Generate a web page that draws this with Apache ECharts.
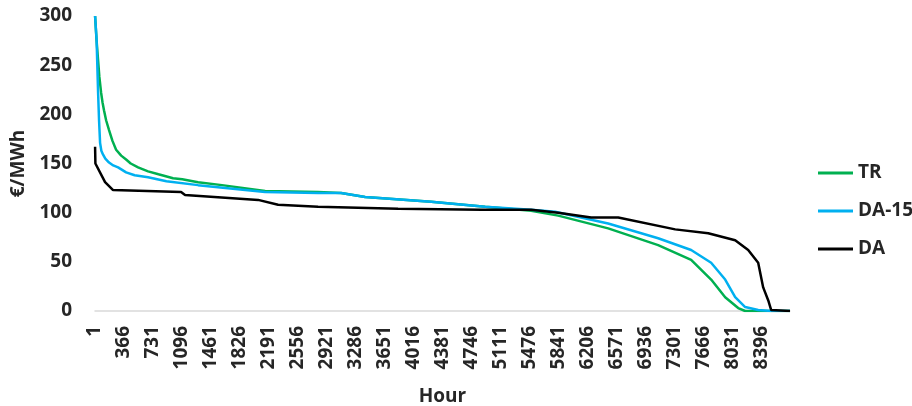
<!DOCTYPE html>
<html>
<head>
<meta charset="utf-8">
<script src="https://cdn.jsdelivr.net/npm/echarts@6/dist/echarts.min.js"></script>
<style>html,body{margin:0;padding:0;background:#fff}#c{width:912px;height:406px}</style>
</head>
<body>
<div id="c"></div>
<script>
// Tick labels on the hour axis
const hourTicks = [1,366,731,1096,1461,1826,2191,2556,2921,3286,3651,4016,4381,4746,5111,5476,5841,6206,6571,6936,7301,7666,8031,8396];
const seriesNames = ['TR', 'DA-15', 'DA'];

// TR (price duration curve) – hours and €/MWh values
const trHours  = [1, 20, 39, 55, 77, 95, 114, 140, 177, 220, 266, 330, 392, 450, 543, 669, 800, 984, 1100, 1299, 1600, 2144, 2812, 3102, 3405, 4237, 4918, 5497, 5838, 6468, 7098, 7514, 7766, 7943, 8107, 8195, 8760];
const trValues = [300, 275, 255, 238, 222, 212, 204, 194, 184, 173, 164, 158, 154, 150, 146, 142, 139, 135, 134, 131, 128, 122, 121, 120, 116, 111, 106, 102, 97, 84, 67, 52, 32, 14, 3, 0, 0];

// DA-15
const da15Hours  = [1, 20, 39, 51, 64, 80, 102, 130, 177, 230, 291, 392, 500, 669, 900, 1299, 2144, 2812, 3102, 3405, 4237, 4918, 5497, 5800, 6468, 7098, 7514, 7766, 7943, 8069, 8195, 8359, 8523, 8760];
const da15Values = [300, 276, 222, 194, 171, 163, 159, 155, 151, 148, 146, 141, 138, 136, 132, 128, 121, 120, 120, 116, 111, 106, 103, 101, 89, 74, 62, 49, 32, 14, 4, 1, 0, 0];

// DA
const daHours  = [1, 5, 127, 228, 1085, 1135, 2056, 2308, 2812, 3820, 4867, 5497, 5838, 6254, 6595, 7313, 7729, 8069, 8233, 8359, 8422, 8485, 8523, 8760];
const daValues = [167, 150, 131, 123, 121, 118, 113, 108, 106, 104, 103, 103, 100, 95, 95, 83, 79, 72, 62, 49, 24, 11, 1, 0];

const colors = ['#00B050', '#00B0F0', '#000000'];
const zip = (h, v) => h.map((x, i) => [x, v[i]]);
const FONT = 'Open Sans';
const TXT = '#262626';

const chart = echarts.init(document.getElementById('c'), null, {renderer: 'canvas'});
chart.setOption({
  animation: false,
  grid: {left: 95, right: 122, top: 16, bottom: 95, containLabel: false, outerBoundsMode: 'none'},
  legend: {
    orient: 'vertical', left: 813, top: 158,
    itemWidth: 35, itemHeight: 3, itemGap: 18, icon: 'rect',
    textStyle: {fontFamily: FONT, fontWeight: 'bold', fontSize: 19, lineHeight: 20, color: TXT},
    data: seriesNames
  },
  xAxis: {
    type: 'value', min: 0, max: 8760,
    name: 'Hour', nameLocation: 'middle', nameGap: 76,
    nameTextStyle: {fontFamily: FONT, fontWeight: 'bold', fontSize: 19, color: TXT},
    axisLine: {show: true, lineStyle: {color: '#d9d9d9', width: 1.5}},
    axisTick: {show: false},
    splitLine: {show: false},
    axisLabel: {
      customValues: hourTicks, rotate: 90, margin: 15,
      formatter: v => String(v),
      fontFamily: FONT, fontWeight: 'bold', fontSize: 19, color: TXT
    }
  },
  yAxis: {
    type: 'value', min: 0, max: 300, interval: 50,
    name: '€/MWh', nameLocation: 'middle', nameGap: 64,
    nameTextStyle: {fontFamily: FONT, fontWeight: 'bold', fontSize: 19, color: TXT},
    axisLine: {show: false}, axisTick: {show: false}, splitLine: {show: false},
    axisLabel: {margin: 23, fontFamily: FONT, fontWeight: 'bold', fontSize: 19, color: TXT}
  },
  series: [
    {name: seriesNames[0], type: 'line', data: zip(trHours, trValues), showSymbol: false, lineStyle: {width: 2.5, color: colors[0]}, itemStyle: {color: colors[0]}},
    {name: seriesNames[1], type: 'line', data: zip(da15Hours, da15Values), showSymbol: false, lineStyle: {width: 2.5, color: colors[1]}, itemStyle: {color: colors[1]}},
    {name: seriesNames[2], type: 'line', data: zip(daHours, daValues), showSymbol: false, lineStyle: {width: 2.5, color: colors[2]}, itemStyle: {color: colors[2]}}
  ]
});
</script>
</body>
</html>
